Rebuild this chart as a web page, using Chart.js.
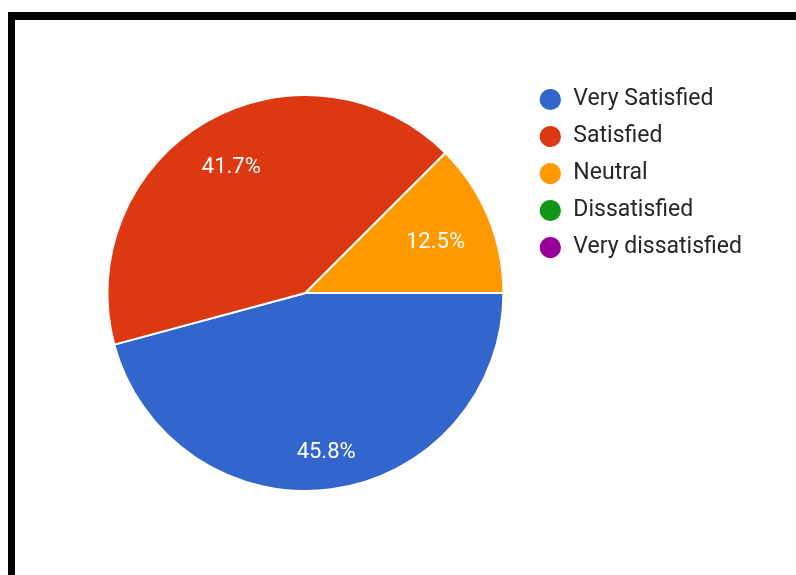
<!DOCTYPE html>
<html>
<head>
<meta charset="utf-8">
<script src="https://cdn.jsdelivr.net/npm/chart.js@4"></script>
<style>
  html, body { margin: 0; padding: 0; background: #fff; overflow: hidden; }
  #wrap { position: relative; width: 796px; height: 575px; }
  #pie { position: absolute; left: 0; top: 0; }
  /* black frame along the top and left edges */
  #frame {
    position: absolute; left: 8px; top: 12px; width: 820px; height: 600px;
    border-top: 8px solid #000; border-left: 7px solid #000;
    pointer-events: none;
  }
</style>
</head>
<body>
<div id="wrap">
  <canvas id="pie" width="796" height="575"></canvas>
  <div id="frame"></div>
</div>
<script>
/* ---------------------------
   SURVEY RESPONSES (percent)
--------------------------- */
const answers = ['Very Satisfied', 'Satisfied', 'Neutral', 'Dissatisfied', 'Very dissatisfied'];
const shares = [45.8, 41.7, 12.5, 0, 0];
const sliceColors = ['#3366cc', '#dc3912', '#ff9900', '#109618', '#990099'];

// percentage text inside each slice, pushed out toward the rim
const sliceLabels = {
    id: 'sliceLabels',
    afterDatasetsDraw(chart) {
        const ctx = chart.ctx;
        const meta = chart.getDatasetMeta(0);
        ctx.save();
        ctx.font = '22px Roboto';
        ctx.fillStyle = '#ffffff';
        ctx.textAlign = 'center';
        ctx.textBaseline = 'middle';
        meta.data.forEach((arc, i) => {
            const v = shares[i];
            if (!v) return;
            const p = arc.getProps(['x', 'y', 'startAngle', 'endAngle', 'outerRadius'], true);
            const mid = (p.startAngle + p.endAngle) / 2;
            const cos = Math.cos(mid), sin = Math.sin(mid);
            const text = v.toFixed(1) + '%';
            const hw = ctx.measureText(text).width / 2, hh = 11;
            const r = p.outerRadius * 0.87 - (hw * Math.abs(cos) + hh * Math.abs(sin));
            ctx.fillText(text, p.x + cos * r, p.y + sin * r + 3);
        });
        ctx.restore();
    }
};

const pieCtx = document.getElementById('pie').getContext('2d');

const pieChart = new Chart(pieCtx, {
    type: 'pie',
    data: {
        labels: answers,
        datasets: [{
            data: shares,
            backgroundColor: sliceColors,
            borderColor: '#ffffff',
            borderWidth: 2,
            radius: 198
        }]
    },
    options: {
        responsive: false,
        animation: false,
        rotation: 90, // first slice starts at 3 o'clock
        layout: {
            padding: { left: 86, right: 44, top: 74, bottom: 63 }
        },
        plugins: {
            tooltip: { enabled: false },
            legend: {
                position: 'right',
                align: 'start',
                labels: {
                    usePointStyle: true,
                    pointStyle: 'circle',
                    boxHeight: 15,
                    padding: 14,
                    color: '#262626',
                    font: { family: 'Roboto', size: 23 },
                    generateLabels(chart) {
                        const items = Chart.overrides.pie.plugins.legend.labels.generateLabels(chart);
                        items.forEach(it => { it.lineWidth = 0; });
                        return items;
                    }
                }
            }
        }
    },
    plugins: [sliceLabels]
});
</script>
</body>
</html>
